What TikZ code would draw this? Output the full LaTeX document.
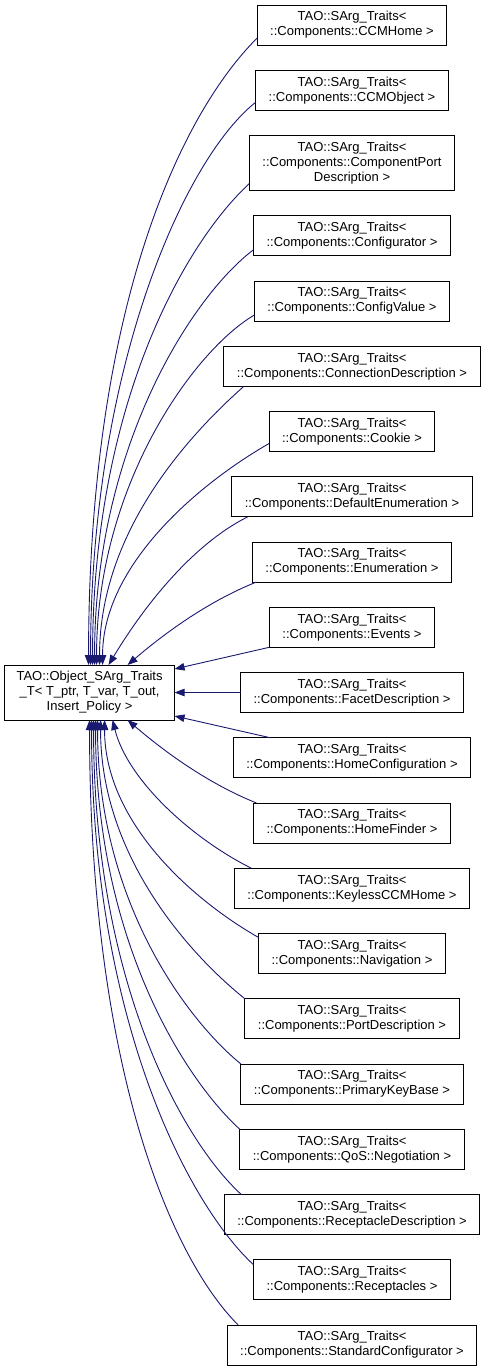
\documentclass[tikz,border=0pt]{standalone}
\usepackage{fontspec}
\setmainfont{Liberation Sans}
\usetikzlibrary{arrows.meta,positioning}
\definecolor{EdgeBlue}{HTML}{191970}

\begin{document}
\begin{tikzpicture}[
  x=1pt,y=1pt,
  node distance=25.25pt,
  every node/.style={font=\fontsize{13}{15}\selectfont},
  cls/.style={draw=black,line width=1pt,fill=white,align=center,outer sep=0pt,
    inner xsep=13pt,inner ysep=5pt,minimum height=40pt},
  arr/.style={-{Triangle[length=10pt,width=7.5pt]},line width=0.9pt,color=EdgeBlue}
]
  \useasboundingbox (0,0) rectangle (485,-1371);
  % derived classes, one column
  \node[cls] (ccmhome) at (352,-25) {TAO::SArg\_Traits<\\::Components::CCMHome >};
  \node[cls,below=of ccmhome] (ccmobject) {TAO::SArg\_Traits<\\::Components::CCMObject >};
  \node[cls,below=of ccmobject,minimum height=55pt] (cpdesc) {TAO::SArg\_Traits<\\::Components::ComponentPort\\Description >};
  \node[cls,below=of cpdesc] (configurator) {TAO::SArg\_Traits<\\::Components::Configurator >};
  \node[cls,below=of configurator] (configvalue) {TAO::SArg\_Traits<\\::Components::ConfigValue >};
  \node[cls,below=of configvalue] (conndesc) {TAO::SArg\_Traits<\\::Components::ConnectionDescription >};
  \node[cls,below=of conndesc] (cookie) {TAO::SArg\_Traits<\\::Components::Cookie >};
  \node[cls,below=of cookie] (defenum) {TAO::SArg\_Traits<\\::Components::DefaultEnumeration >};
  \node[cls,below=of defenum] (enumeration) {TAO::SArg\_Traits<\\::Components::Enumeration >};
  \node[cls,below=of enumeration] (events) {TAO::SArg\_Traits<\\::Components::Events >};
  \node[cls,below=of events] (facetdesc) {TAO::SArg\_Traits<\\::Components::FacetDescription >};
  \node[cls,below=of facetdesc] (homeconf) {TAO::SArg\_Traits<\\::Components::HomeConfiguration >};
  \node[cls,below=of homeconf] (homefinder) {TAO::SArg\_Traits<\\::Components::HomeFinder >};
  \node[cls,below=of homefinder] (keyless) {TAO::SArg\_Traits<\\::Components::KeylessCCMHome >};
  \node[cls,below=of keyless] (navigation) {TAO::SArg\_Traits<\\::Components::Navigation >};
  \node[cls,below=of navigation] (portdesc) {TAO::SArg\_Traits<\\::Components::PortDescription >};
  \node[cls,below=of portdesc] (pkbase) {TAO::SArg\_Traits<\\::Components::PrimaryKeyBase >};
  \node[cls,below=of pkbase] (qosneg) {TAO::SArg\_Traits<\\::Components::QoS::Negotiation >};
  \node[cls,below=of qosneg] (recdesc) {TAO::SArg\_Traits<\\::Components::ReceptacleDescription >};
  \node[cls,below=of recdesc] (receptacles) {TAO::SArg\_Traits<\\::Components::Receptacles >};
  \node[cls,below=of receptacles] (stdconf) {TAO::SArg\_Traits<\\::Components::StandardConfigurator >};
  % base class
  \node[cls,left=66pt of facetdesc,minimum width=170pt,minimum height=55pt,inner xsep=10pt] (obj)
    {TAO::Object\_SArg\_Traits\\\_T< T\_ptr, T\_var, T\_out,\\Insert\_Policy >};
  % upper fan
  \foreach \src/\dx/\dy/\tip/\ax/\ay/\bx/\by in {ccmhome/0/7/84/-80/-80/0/350,
      ccmobject/0/8/86/-70/-55/0/300,cpdesc/0/7/88/-65/-60/0/260,
      configurator/0/6/90/-60/-45/0/220,configvalue/0/6/92/-60/-35/0/180,
      conndesc/20/0/95/-45/-40/0/140,cookie/0/8/98/-70/-40/0/100,
      defenum/16/0/104/-60/-30/30/50,enumeration/4/0/123/-50/-20/35/30}
    {\draw[arr] ([shift={(\dx,\dy)}]\src.south west) .. controls +(\ax,\ay) and +(\bx,\by)
      .. ([xshift=\tip]obj.north west);}
  \draw[arr] (events.south west) -- ([yshift=-4pt]obj.north east);
  \draw[arr] (facetdesc.west) -- (obj.east);
  \draw[arr] ([xshift=37pt]homeconf.north west) -- ([yshift=4pt]obj.south east);
  % lower fan
  \foreach \src/\dx/\dy/\tip/\ax/\ay/\bx/\by in {homefinder/3/0/123/-50/20/35/-30,
      keyless/17/0/108/-60/30/15/-60,navigation/0/-4/100/-70/40/0/-100,
      portdesc/0/0/96/-50/40/0/-140,pkbase/0/0/93/-55/45/0/-180,
      qosneg/0/0/91/-55/50/0/-220,recdesc/17/0/89/-60/55/0/-260,
      receptacles/0/-5/87/-65/60/0/-300,stdconf/11/0/85/-70/70/0/-340}
    {\draw[arr] ([shift={(\dx,\dy)}]\src.north west) .. controls +(\ax,\ay) and +(\bx,\by)
      .. ([xshift=\tip]obj.south west);}
\end{tikzpicture}
\end{document}
